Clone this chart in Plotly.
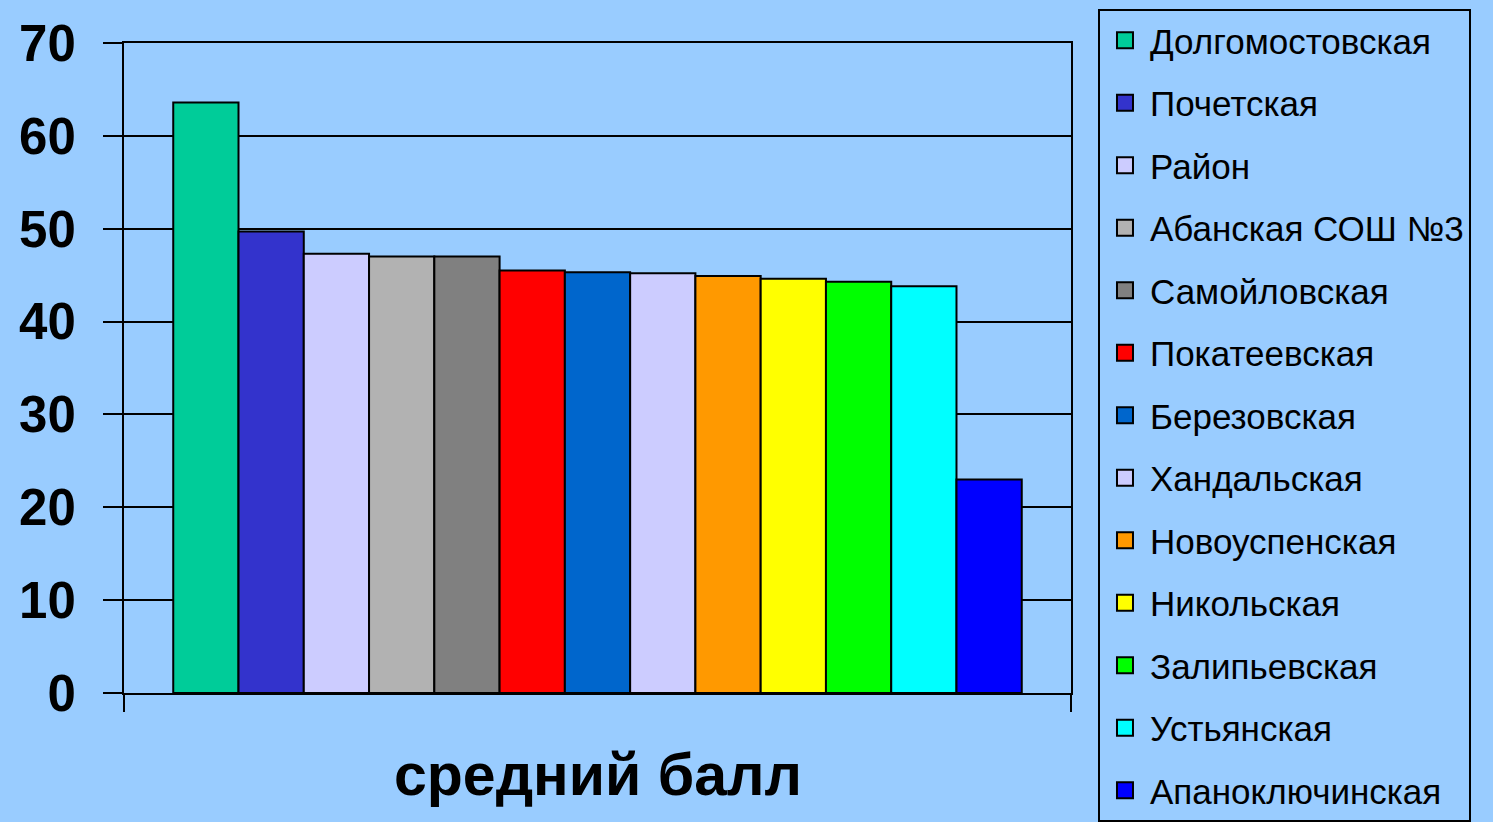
import plotly.graph_objects as go

category = ["средний балл"]
schools = ["Долгомостовская", "Почетская", "Район", "Абанская СОШ №3", "Самойловская",
           "Покатеевская", "Березовская", "Хандальская", "Новоуспенская", "Никольская",
           "Залипьевская", "Устьянская", "Апаноключинская"]
scores = [63.6, 49.7, 47.3, 47.0, 47.0, 45.5, 45.3, 45.2, 44.9, 44.6, 44.3, 43.8, 23.0]
colors = ["#00CC99", "#3333CC", "#CCCCFF", "#B2B2B2", "#808080", "#FF0000", "#0066CC",
          "#CCCCFF", "#FF9900", "#FFFF00", "#00FF00", "#00FFFF", "#0000FF"]
y_ticks = [0, 10, 20, 30, 40, 50, 60, 70]

fig = go.Figure()
for i, (name, val, col) in enumerate(zip(schools, scores, colors)):
    fig.add_trace(go.Bar(x=category, y=[val], name=name, marker_color=col,
                         marker_line=dict(color="black", width=2), showlegend=False))
    fig.add_trace(go.Scatter(x=[None], y=[None], mode="markers", name=name,
                             legendgroup=f"g{i}",
                             marker=dict(symbol="square", size=22, color=col,
                                         line=dict(color="black", width=2))))

fig.update_layout(
    width=1493, height=822,
    margin=dict(l=124, r=422, t=42, b=129),
    paper_bgcolor="#99CCFF", plot_bgcolor="#99CCFF",
    barmode="group", bargap=0.104, bargroupgap=0,
    font=dict(family="Liberation Sans, Arial, sans-serif", color="black"),
    legend=dict(x=1.0285, xanchor="left", y=1.0476, yanchor="top",
                bgcolor="rgba(0,0,0,0)", bordercolor="black", borderwidth=2,
                font=dict(size=35, color="black"), tracegroupgap=14,
                itemsizing="trace", itemwidth=40, maxheight=2000),
    annotations=[dict(text="<b>средний балл</b>", x=0.5, y=-0.126, xref="paper", yref="paper",
                      xanchor="center", yanchor="middle", showarrow=False,
                      font=dict(size=59, color="black"))],
)
fig.update_xaxes(type="category", showticklabels=False, showgrid=False,
                 ticks="outside", tickson="boundaries", ticklen=17, tickwidth=2, tickcolor="black",
                 showline=True, mirror=True, linecolor="black", linewidth=2, range=[-0.5, 0.5])
fig.update_yaxes(range=[0, 70], tickvals=y_ticks, showgrid=True, gridcolor="black", gridwidth=2,
                 zeroline=False, ticks="outside", ticklen=19, tickwidth=2, tickcolor="black",
                 showline=True, mirror=True, linecolor="black", linewidth=2,
                 ticklabelstandoff=17,
                 tickfont=dict(size=51, color="black", family="Liberation Sans, Arial, sans-serif", weight="bold"))

fig.write_html("out.html", config={"displayModeBar": False},
               post_script="document.body.style.margin='0';document.body.style.overflow='hidden';")
